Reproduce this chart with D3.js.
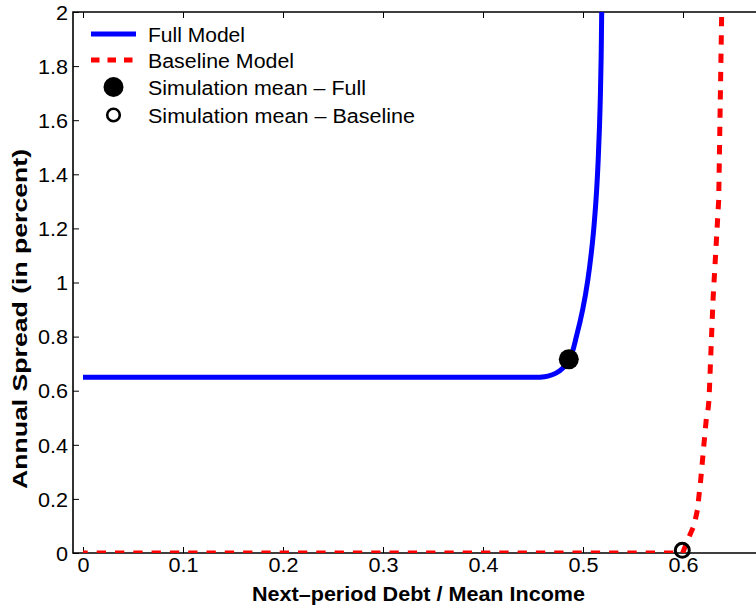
<!DOCTYPE html>
<html>
<head>
<meta charset="utf-8">
<script src="https://cdn.jsdelivr.net/npm/d3@7/dist/d3.min.js"></script>
<style>
  html, body { margin: 0; padding: 0; background: #fff; }
  svg { display: block; }
  text { font-family: "Liberation Sans", Arial, Helvetica, sans-serif; fill: #000; }
</style>
</head>
<body>
<svg id="chart" width="756" height="613"></svg>
<script>
// ---- data ----
const fullX = [0, 0.1, 0.2, 0.3, 0.4, 0.45, 0.457, 0.465, 0.473, 0.480, 0.4868, 0.4938, 0.4996, 0.5048, 0.5097, 0.5130, 0.5152, 0.5170, 0.5181, 0.5187];
const fullY = [0.65, 0.65, 0.65, 0.65, 0.65, 0.65, 0.650, 0.654, 0.665, 0.684, 0.717, 0.806, 0.898, 1.009, 1.157, 1.305, 1.453, 1.638, 1.823, 2.0];

const baseX = [0, 0.1, 0.2, 0.3, 0.4, 0.5, 0.5997, 0.6047, 0.611, 0.6144, 0.6177, 0.6207, 0.6234, 0.6245, 0.626, 0.630, 0.6357, 0.6387];
const baseY = [0, 0, 0, 0, 0, 0, 0, 0.048, 0.101, 0.159, 0.27, 0.392, 0.499, 0.51, 0.566, 0.935, 1.305, 2.0];

const meanFull = [0.4858, 0.716];
const meanBase = [0.5993, 0.01];

const xTicks = [0, 0.1, 0.2, 0.3, 0.4, 0.5, 0.6];
const xTickLabels = ["0", "0.1", "0.2", "0.3", "0.4", "0.5", "0.6"];
const yTicks = [0, 0.2, 0.4, 0.6, 0.8, 1, 1.2, 1.4, 1.6, 1.8, 2];
const yTickLabels = ["0", "0.2", "0.4", "0.6", "0.8", "1", "1.2", "1.4", "1.6", "1.8", "2"];

const legendLabels = ["Full Model", "Baseline Model", "Simulation mean \u2013 Full", "Simulation mean \u2013 Baseline"];
const xLabel = "Next\u2013period Debt / Mean Income";
const yLabel = "Annual Spread (in percent)";

// ---- layout ----
const svg = d3.select("#chart");
const L = 73, T = 12, B = 553, R = 783;
const x = d3.scaleLinear().domain([-0.01, 0.7]).range([L, R]);
const y = d3.scaleLinear().domain([0, 2]).range([B, T]);

function stretch(sel, k) {
  sel.each(function () {
    const w = this.getComputedTextLength();
    d3.select(this).attr("textLength", w * k).attr("lengthAdjust", "spacingAndGlyphs");
  });
}

svg.append("defs").append("clipPath").attr("id", "plotclip")
  .append("rect").attr("x", L).attr("y", T).attr("width", R - L).attr("height", B - T);

// axes
const gx = svg.append("g").attr("transform", `translate(0,${B})`)
  .call(d3.axisBottom(x).tickValues(xTicks).tickFormat((d, i) => xTickLabels[i]).tickSize(-6).tickPadding(0));
gx.select(".domain").remove();
gx.selectAll("line").attr("stroke", "#000").attr("stroke-width", 1);
gx.selectAll("text").attr("font-size", 20).attr("y", 19).attr("dy", 0)
  .style("font-family", '"Liberation Sans", Arial, sans-serif').attr("fill", "#000");
stretch(gx.selectAll("text"), 1.08);

const gxt = svg.append("g").attr("transform", `translate(0,${T})`)
  .call(d3.axisTop(x).tickValues(xTicks).tickFormat("").tickSize(-6));
gxt.select(".domain").remove();
gxt.selectAll("line").attr("stroke", "#000").attr("stroke-width", 1);

const gy = svg.append("g").attr("transform", `translate(${L},0)`)
  .call(d3.axisLeft(y).tickValues(yTicks).tickFormat((d, i) => yTickLabels[i]).tickSize(-6).tickPadding(5));
gy.select(".domain").remove();
gy.selectAll("line").attr("stroke", "#000").attr("stroke-width", 1);
gy.selectAll("text").attr("font-size", 20).attr("dy", "0.36em")
  .style("font-family", '"Liberation Sans", Arial, sans-serif').attr("fill", "#000");
stretch(gy.selectAll("text"), 1.08);

// box
svg.append("path")
  .attr("d", `M${R},${T}H${L}V${B}H${R}`)
  .attr("fill", "none").attr("stroke", "#000").attr("stroke-width", 1.6);

// lines
const plot = svg.append("g").attr("clip-path", "url(#plotclip)");

plot.append("path")
  .datum(fullX.map((v, i) => [v, fullY[i]]))
  .attr("d", d3.line().x(d => x(d[0])).y(d => y(d[1])).curve(d3.curveCatmullRom.alpha(0.5)))
  .attr("fill", "none").attr("stroke", "#0000ff").attr("stroke-width", 5);

plot.append("path")
  .datum(baseX.map((v, i) => [v, baseY[i]]))
  .attr("d", d3.line().x(d => x(d[0])).y(d => y(d[1])))
  .attr("fill", "none").attr("stroke", "#ff0000").attr("stroke-width", 5)
  .attr("stroke-dasharray", "9.3,9").attr("stroke-dashoffset", 4.6);

// markers
svg.append("circle").attr("cx", x(meanFull[0])).attr("cy", y(meanFull[1])).attr("r", 10).attr("fill", "#000");
svg.append("circle").attr("cx", x(meanBase[0])).attr("cy", y(meanBase[1])).attr("r", 7)
  .attr("fill", "none").attr("stroke", "#000").attr("stroke-width", 3);

// legend
const legRows = [34, 60, 87, 115];
const lg = svg.append("g");
lg.append("line").attr("x1", 91).attr("x2", 136).attr("y1", legRows[0]).attr("y2", legRows[0])
  .attr("stroke", "#0000ff").attr("stroke-width", 5);
lg.append("line").attr("x1", 91).attr("x2", 136).attr("y1", legRows[1]).attr("y2", legRows[1])
  .attr("stroke", "#ff0000").attr("stroke-width", 5).attr("stroke-dasharray", "8.5,8");
lg.append("circle").attr("cx", 113.5).attr("cy", legRows[2]).attr("r", 10).attr("fill", "#000");
lg.append("circle").attr("cx", 113.5).attr("cy", legRows[3]).attr("r", 6.3)
  .attr("fill", "none").attr("stroke", "#000").attr("stroke-width", 2.6);
const legWidths = [97, 146, 218, 267];
lg.selectAll("text.leg").data(legendLabels).join("text").attr("class", "leg")
  .attr("x", 148).attr("y", (d, i) => legRows[i] + 7.5)
  .attr("font-size", 20).text(d => d)
  .attr("textLength", (d, i) => legWidths[i]).attr("lengthAdjust", "spacingAndGlyphs");

// axis labels
svg.append("text").attr("x", 418.5).attr("y", 601).attr("text-anchor", "middle")
  .attr("font-size", 19.5).attr("font-weight", "bold").text(xLabel)
  .attr("textLength", 333).attr("lengthAdjust", "spacingAndGlyphs");
svg.append("text").attr("transform", "translate(26.5,319) rotate(-90)").attr("text-anchor", "middle")
  .attr("font-size", 19.5).attr("font-weight", "bold").text(yLabel)
  .attr("textLength", 340).attr("lengthAdjust", "spacingAndGlyphs");
</script>
</body>
</html>
